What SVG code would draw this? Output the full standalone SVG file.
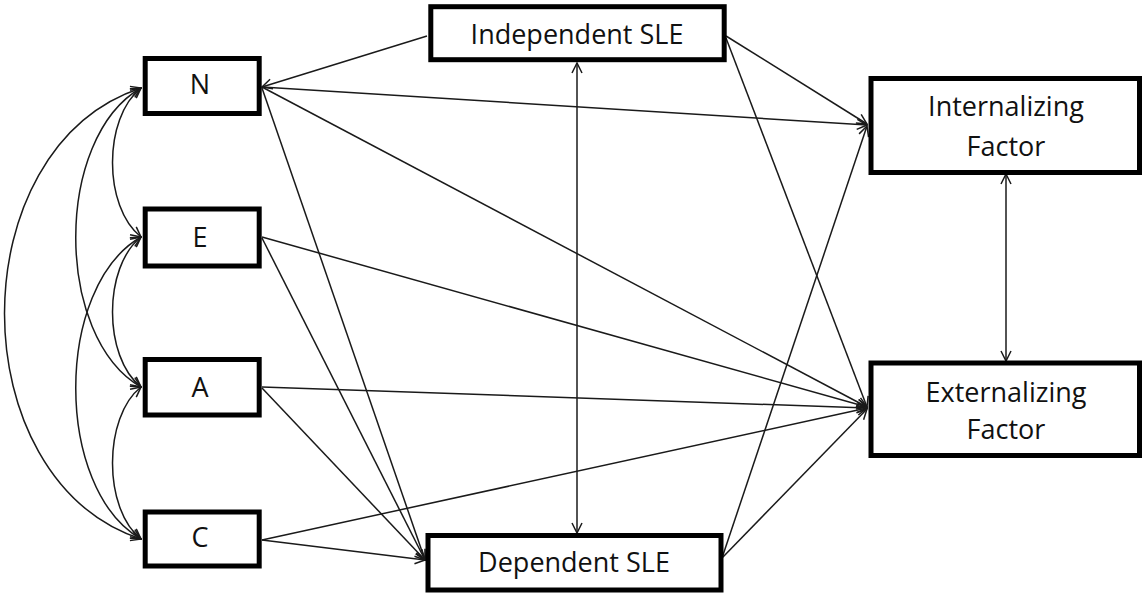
<svg xmlns="http://www.w3.org/2000/svg" width="1145" height="594" viewBox="0 0 1145 594">
<defs>
<marker id="ah" viewBox="0 0 12 12" refX="11" refY="6" markerWidth="12" markerHeight="12" markerUnits="userSpaceOnUse" orient="auto-start-reverse">
<path d="M1,1 L11,6 L1,11" fill="none" stroke="#1a1a1a" stroke-width="1.5"/>
</marker>
<style>
.box{fill:#fff;stroke:#000;stroke-width:5}
.lbl{font-family:"Open Sans","Liberation Sans",sans-serif;font-size:27px;fill:#111;text-anchor:middle}
.e{fill:none;stroke:#1a1a1a;stroke-width:1.5;marker-end:url(#ah)}
.d{fill:none;stroke:#1a1a1a;stroke-width:1.5;marker-end:url(#ah);marker-start:url(#ah)}
</style>
</defs>
<rect width="1145" height="594" fill="#fff"/>
<g id="connectors">
<path class="d" d="M141,88 C103,118 103,207 141,237"/>
<path class="d" d="M141,237 C103,267 103,357 141,387"/>
<path class="d" d="M141,387 C103,417 103,509 141,539"/>
<path class="d" d="M141,88 C54,138 54,337 141,387"/>
<path class="d" d="M141,237 C54,287 54,489 141,539"/>
<path class="d" d="M141,88 C-41,148 -41,479 141,539"/>
<line class="e" x1="427" y1="36" x2="262" y2="87"/>
<line class="d" x1="577" y1="63" x2="577" y2="533"/>
<line class="e" x1="726" y1="36" x2="867" y2="124"/>
<line class="e" x1="726" y1="38" x2="867" y2="407"/>
<line class="e" x1="262" y1="87" x2="867" y2="125"/>
<line class="e" x1="262" y1="87" x2="867" y2="407"/>
<line class="e" x1="262" y1="88" x2="425" y2="560"/>
<line class="e" x1="262" y1="237" x2="867" y2="407"/>
<line class="e" x1="262" y1="238" x2="425" y2="560"/>
<line class="e" x1="262" y1="387" x2="867" y2="408"/>
<line class="e" x1="262" y1="388" x2="425" y2="560"/>
<line class="e" x1="262" y1="540" x2="867" y2="408"/>
<line class="e" x1="262" y1="540" x2="425" y2="560"/>
<line class="e" x1="722" y1="558" x2="867" y2="126"/>
<line class="e" x1="722" y1="558" x2="867" y2="409"/>
<line class="d" x1="1006" y1="174" x2="1006" y2="361"/>
</g>
<g id="node-N"><rect class="box" x="145.2" y="58.5" width="114" height="55"/><text class="lbl" x="200" y="93.5">N</text></g>
<g id="node-E"><rect class="box" x="145.2" y="209" width="114" height="57"/><text class="lbl" x="200" y="247">E</text></g>
<g id="node-A"><rect class="box" x="145.2" y="359.5" width="114" height="55.5"/><text class="lbl" x="200" y="397">A</text></g>
<g id="node-C"><rect class="box" x="145.2" y="512" width="114" height="54"/><text class="lbl" x="200" y="547">C</text></g>
<g id="node-indep"><rect class="box" x="430.8" y="6.7" width="293.4" height="53"/><text class="lbl" x="577" y="43.5">Independent SLE</text></g>
<g id="node-dep"><rect class="box" x="428" y="535.5" width="293" height="54.5"/><text class="lbl" x="574" y="572">Dependent SLE</text></g>
<g id="node-int"><rect class="box" x="871" y="78.5" width="268.5" height="94"/><text class="lbl" x="1006" y="115.5">Internalizing</text><text class="lbl" x="1006" y="155.5">Factor</text></g>
<g id="node-ext"><rect class="box" x="871" y="363" width="268.5" height="92.5"/><text class="lbl" x="1006" y="402">Externalizing</text><text class="lbl" x="1006" y="439">Factor</text></g>
</svg>
